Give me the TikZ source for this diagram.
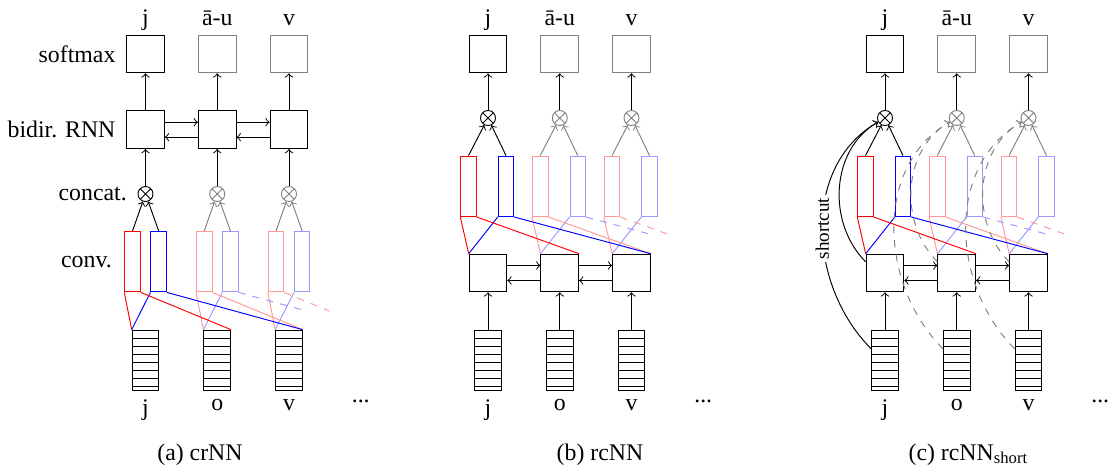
\documentclass[tikz,border=0pt]{standalone}
\usepackage{fontspec}
\setmainfont{Liberation Serif}
\usetikzlibrary{arrows,positioning,calc}

\tikzset{
  unit/.style={draw, minimum size=15.8pt, inner sep=0pt},
  concat/.style={circle, draw, minimum size=6.3pt, inner sep=0pt,
    path picture={\draw (path picture bounding box.south west) -- (path picture bounding box.north east)
      (path picture bounding box.north west) -- (path picture bounding box.south east);}},
  filter/.style={draw, minimum width=6.5pt, minimum height=25.4pt, inner sep=0pt},
  embed/.style={draw, minimum width=11.2pt, minimum height=25.4pt, inner sep=0pt,
    path picture={\foreach \k in {1,...,7}
      \draw ([yshift={-3.4pt*\k}]path picture bounding box.north west) -- ([yshift={-3.4pt*\k}]path picture bounding box.north east);}},
}

\begin{document}
\begin{tikzpicture}[x=0.42pt, y=0.42pt]
  \useasboundingbox (0,0) rectangle (1110,472);

  % (a) crNN
  \foreach \i/\tl/\bl/\rc/\bc/\gc in {0/j/j/red/blue/black, 1/ā-u/o/red!40/blue!40/gray, 2/v/v/red!40/blue!40/gray}{
    \pgfmathsetmacro\x{145.5+71.75*\i}
    \node[unit, \gc] (a-s\i) at (\x,418) {};
    \node[anchor=base] at (\x,446) {\tl};
    \node[unit] (a-r\i) at (\x,342.3) {};
    \node[concat, \gc] (a-c\i) at (\x,278) {};
    \node[filter, \rc] (a-fr\i) at (\x-13,210.3) {};
    \node[filter, \bc] (a-fb\i) at (\x+13.2,210.3) {};
    \node[embed] (a-e\i) at (\x,111.6) {};
    \node[below=0pt of a-e\i] {\bl};
    \draw[->, \gc] (a-fr\i.north) -- (a-c\i);
    \draw[->, \gc] (a-fb\i.north) -- (a-c\i);
    \draw[->] (a-c\i) -- (a-r\i);
    \draw[->] (a-r\i) -- (a-s\i);
    \draw[\rc] (a-fr\i.south west) -- (a-e\i.north west);
    \draw[\bc] (a-fb\i.south west) -- (a-e\i.north west);
  }
  \foreach \i/\j in {0/1, 1/2}{
    \draw[->] ([yshift=3.15pt]a-r\i.east) -- ([yshift=3.15pt]a-r\j.west);
    \draw[<-] ([yshift=-3.15pt]a-r\i.east) -- ([yshift=-3.15pt]a-r\j.west);
  }
  \path (a-e2.north east) ++(71.75,0) coordinate (a-v3);
  \path (a-e2.south) ++(71.75,0) node[below=0pt] {...};
  \draw[red] (a-fr0.south east) -- (a-e1.north east);
  \draw[red!40] (a-fr1.south east) -- (a-e2.north east);
  \draw[red!40, dashed] (a-fr2.south east) -- ($(a-fr2.south east)!.5!(a-v3)$);
  \draw[blue] (a-fb0.south east) -- (a-e2.north east);
  \draw[blue!40, dashed] (a-fb1.south east) -- ($(a-fb1.south east)!.5!(a-v3)$);
  \node[left=1pt of a-s0] {softmax};
  \node[left=1pt of a-r0] {bidir. RNN};
  \node[left=1pt of a-c0] {concat.};
  \node[left=1.7pt of a-fr0] {conv.};
  \node[anchor=base] at (200,12) {(a) crNN};

  % (b) rcNN and (c) rcNN_short
  \foreach \p/\bx in {b/488, c/885}{
    \foreach \i/\tl/\bl/\rc/\bc/\gc in {0/j/j/red/blue/black, 1/ā-u/o/red!40/blue!40/gray, 2/v/v/red!40/blue!40/gray}{
      \pgfmathsetmacro\x{\bx+71.75*\i}
      \node[unit, \gc] (\p-s\i) at (\x,418) {};
      \node[anchor=base] at (\x,446) {\tl};
      \node[concat, \gc] (\p-c\i) at (\x,354) {};
      \node[filter, \rc] (\p-fr\i) at (\x-19.5,285.7) {};
      \node[filter, \bc] (\p-fb\i) at (\x+18,285.7) {};
      \node[unit] (\p-r\i) at (\x,199) {};
      \node[embed] (\p-e\i) at (\x,111.6) {};
      \node[below=0pt of \p-e\i] {\bl};
      \draw[->, \gc] (\p-fr\i.north) -- (\p-c\i);
      \draw[->, \gc] (\p-fb\i.north) -- (\p-c\i);
      \draw[->] (\p-c\i) -- (\p-s\i);
      \draw[->] (\p-e\i) -- (\p-r\i);
      \draw[\rc] (\p-fr\i.south west) -- (\p-r\i.north west);
      \draw[\bc] (\p-fb\i.south west) -- (\p-r\i.north west);
    }
    \foreach \i/\j in {0/1, 1/2}{
      \draw[->] ([yshift=3.15pt]\p-r\i.east) -- ([yshift=3.15pt]\p-r\j.west);
      \draw[<-] ([yshift=-3.15pt]\p-r\i.east) -- ([yshift=-3.15pt]\p-r\j.west);
    }
    \path (\p-r2.north east) ++(71.75,0) coordinate (\p-v3);
    \path (\p-e2.south) ++(71.75,0) node[below=0pt] {...};
    \draw[red] (\p-fr0.south east) -- (\p-r1.north east);
    \draw[red!40] (\p-fr1.south east) -- (\p-r2.north east);
    \draw[red!40, dashed] (\p-fr2.south east) -- ($(\p-fr2.south east)!.5!(\p-v3)$);
    \draw[blue] (\p-fb0.south east) -- (\p-r2.north east);
    \draw[blue!40, dashed] (\p-fb1.south east) -- ($(\p-fb1.south east)!.5!(\p-v3)$);
  }
  \node[anchor=base] at (600,12) {(b) rcNN};

  % shortcuts
  \draw[->] (c-e0.140) to[out=135, in=210] node[rotate=90, fill=white, inner sep=1pt, font=\footnotesize] {shortcut} (c-c0);
  \draw[->] (c-r0.150) to[out=135, in=210] (c-c0);
  \foreach \i in {1,2}{
    \draw[->, gray, dashed] (c-e\i.140) to[out=135, in=210] (c-c\i);
    \draw[->, gray, dashed] (c-r\i.150) to[out=135, in=210] (c-c\i);
  }
  \node[anchor=base] at (968.5,12) {(c) rcNN\textsubscript{short}};
\end{tikzpicture}
\end{document}
